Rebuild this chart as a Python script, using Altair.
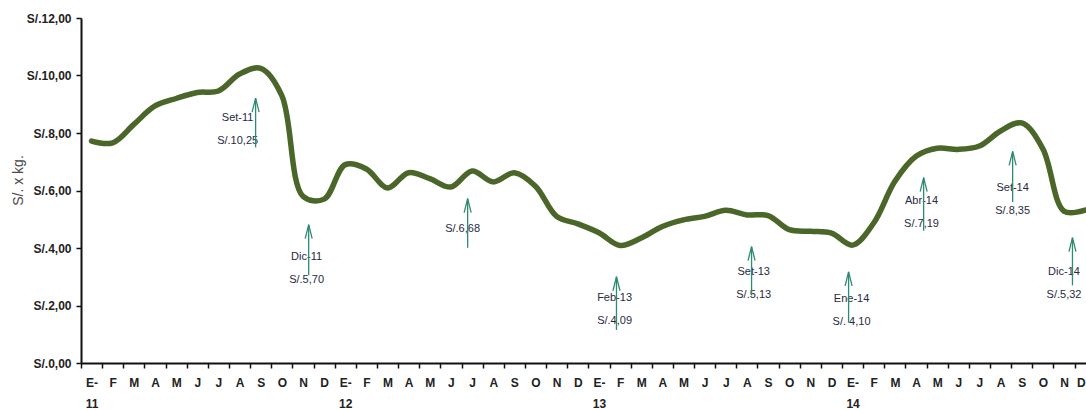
import altair as alt
import pandas as pd

# Monthly price series, Jan 2011 - Dec 2014 (soles per kg)
meses = ["E-", "F", "M", "A", "M", "J", "J", "A", "S", "O", "N", "D"]
anios = ["11", "12", "13", "14"]

precio_2011 = [7.72, 7.66, 8.30, 8.94, 9.20, 9.41, 9.46, 10.05, 10.25, 9.30, 5.80, 5.70]
precio_2012 = [6.90, 6.75, 6.09, 6.62, 6.41, 6.12, 6.68, 6.30, 6.62, 6.15, 5.10, 4.84]
precio_2013 = [4.53, 4.09, 4.35, 4.75, 4.98, 5.10, 5.31, 5.15, 5.13, 4.64, 4.58, 4.52]
precio_2014 = [4.10, 4.87, 6.32, 7.19, 7.47, 7.43, 7.55, 8.07, 8.35, 7.45, 5.28, 5.32]

# Highlighted months and their callout texts
nota_titulo = ["Set-11", "Dic-11", "", "Feb-13", "Set-13", "Ene-14", "Abr-14", "Set-14", "Dic-14"]
nota_valor = ["S/.10,25", "S/.5,70", "S/.6,68", "S/.4,09", "S/.5,13", "S/. 4,10", "S/.7,19", "S/.8,35", "S/.5,32"]

# Callout placement in axis units (month position, price level)
flecha_x = [7.76, 10.27, 17.79, 24.83, 31.22, 35.81, 39.36, 43.57, 46.40]
flecha_punta = [9.21, 4.81, 5.72, 3.00, 4.05, 3.17, 6.45, 7.36, 4.36]
flecha_cola = [7.50, 3.05, 4.01, 1.15, 2.35, 1.40, 4.60, 5.60, 2.70]
texto_x = [6.91, 10.17, 17.55, 24.74, 31.32, 35.95, 39.26, 43.57, 46.00]
texto_y = [8.51, 3.70, 5.47, 2.27, 3.17, 2.23, 5.62, 6.10, 3.17]

precios = precio_2011 + precio_2012 + precio_2013 + precio_2014
serie = pd.DataFrame({"mes": list(range(len(precios))), "precio": precios})
notas = pd.DataFrame({
    "titulo": nota_titulo, "valor": nota_valor,
    "fx": flecha_x, "punta": flecha_punta, "cola": flecha_cola,
    "tx": texto_x, "ty": texto_y,
})

FUENTE = "Liberation Sans Narrow, Arial Narrow, Liberation Sans, Arial"
W, H = 1005, 345
banda = W / 47.54

x_scale = alt.Scale(domain=[-0.5, 47.04], nice=False, zero=False)
y_scale = alt.Scale(domain=[0, 12], nice=False, zero=False)

meses_js = "[" + ",".join(f"'{m}'" for m in meses) + "]"
anios_js = "[" + ",".join(f"'{a}'" for a in anios) + "]"
etiqueta_mes = (
    f"(round(datum.value + 0.5) % 12 == 0) ? "
    f"['E-', {anios_js}[floor(round(datum.value + 0.5) / 12)]] : "
    f"(round(datum.value + 0.5) < 48 ? {meses_js}[round(datum.value + 0.5) % 12] : '')"
)

eje_x = alt.Axis(
    values=[k - 0.5 for k in range(48)],
    labelExpr=etiqueta_mes,
    labelOffset=banda / 2,
    # the last month sits on the right edge: anchor it by its right side
    labelAlign={"condition": {"test": "datum.value > 46", "value": "right"}, "value": "center"},
    labelBaseline="top",
    labelPadding=9,
    labelLineHeight=21,
    labelOverlap=False,
    labelFlush=False,
    labelBound=False,
    labelFont=FUENTE,
    labelFontSize=12,
    labelFontWeight="bold",
    labelColor="#222222",
    tickSize=5,
    tickWidth=1.5,
    tickColor="#111111",
    domainColor="#111111",
    domainWidth=2,
    grid=False,
    title=None,
)

eje_y = alt.Axis(
    values=[0, 2, 4, 6, 8, 10, 12],
    labelExpr="'S/.' + replace(format(datum.value, '.2f'), '.', ',')",
    labelFont=FUENTE,
    labelFontSize=12,
    labelFontWeight="bold",
    labelColor="#222222",
    labelPadding=5,
    tickSize=5,
    tickWidth=1.5,
    tickColor="#111111",
    domainColor="#111111",
    domainWidth=2,
    grid=False,
    title="S/. x kg.",
    titleFont=FUENTE,
    titleFontSize=14,
    titleFontWeight="normal",
    titleColor="#4a4a4a",
    titleX=-63,
    titleY=162,
    titleBaseline="middle",
)


def pos_x(campo):
    return alt.X(campo, scale=x_scale, axis=eje_x)


def pos_y(campo):
    return alt.Y(campo, scale=y_scale, axis=eje_y)


linea = alt.Chart(serie).mark_line(
    interpolate="catmull-rom", color="#4a6628", strokeWidth=5.5, strokeCap="round"
).encode(x=pos_x("mes:Q"), y=pos_y("precio:Q"))

COLOR_NOTA = "#2f8a72"
COLOR_TEXTO = "#262a3e"

texto1 = alt.Chart(notas).mark_text(
    font=FUENTE, fontSize=11, color=COLOR_TEXTO, baseline="middle", align="center"
).encode(x=pos_x("tx:Q"), y=pos_y("ty:Q"), text="titulo:N")

texto2 = alt.Chart(notas).mark_text(
    font=FUENTE, fontSize=11, color=COLOR_TEXTO, baseline="middle", align="center", dy=23
).encode(x=pos_x("tx:Q"), y=pos_y("ty:Q"), text="valor:N")

asta = alt.Chart(notas).mark_rule(color=COLOR_NOTA, strokeWidth=1.3).encode(
    x=pos_x("fx:Q"), y=pos_y("punta:Q"), y2="cola:Q"
)

# open arrowhead: narrow chevron with its tip on the anchor point
punta = alt.Chart(notas).mark_point(
    shape="M-0.5,2 L0,0 L0.5,2", size=196, filled=False,
    stroke=COLOR_NOTA, strokeWidth=1.3, opacity=1,
).encode(x=pos_x("fx:Q"), y=pos_y("punta:Q"))

chart = alt.layer(linea, texto1, texto2, asta, punta).properties(
    width=W,
    height=H,
    autosize=alt.AutoSizeParams(type="none"),
    padding={"left": 81, "top": 18, "right": 0, "bottom": 47},
    background="#ffffff",
).configure_view(stroke=None)

chart.save("out.html", embed_options={"renderer": "svg", "actions": False})
